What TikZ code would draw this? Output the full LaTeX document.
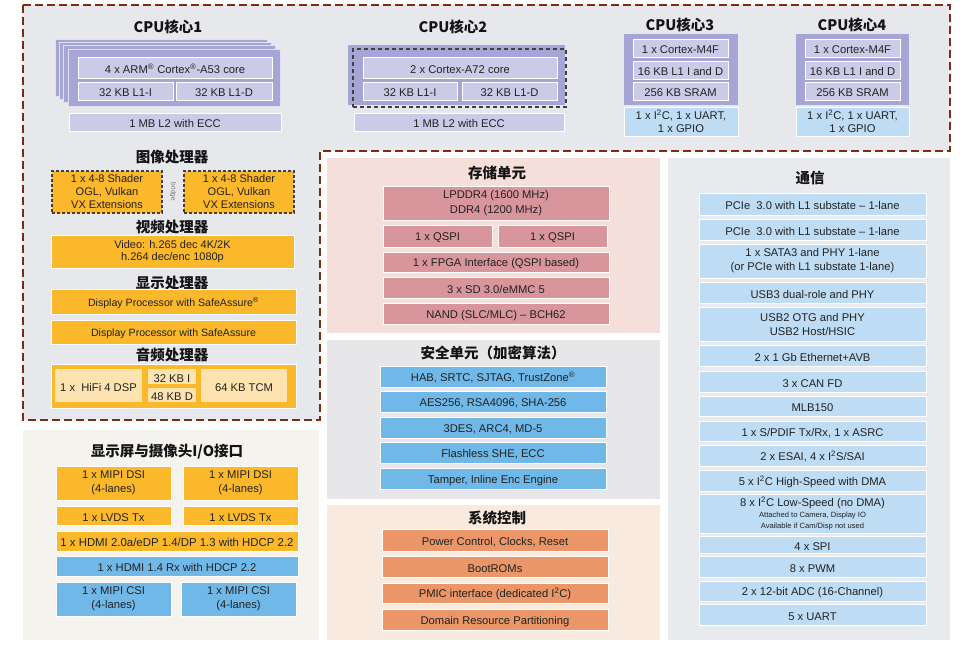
\documentclass[tikz,border=0pt]{standalone}
\usepackage{fontspec}
\setmainfont{Liberation Sans}
\newfontfamily\cjk{Noto Sans CJK SC}
\definecolor{cpubg}{HTML}{E7E8EC}
\definecolor{bordc}{HTML}{7F2A12}
\definecolor{lavd}{HTML}{A6A6D6}
\definecolor{lavl}{HTML}{CBCBE8}
\definecolor{lblue}{HTML}{BEDDF4}
\definecolor{orng}{HTML}{FBB82B}
\definecolor{cream}{HTML}{FDE3AF}
\definecolor{pinkbg}{HTML}{F5DFDB}
\definecolor{pinkbx}{HTML}{D9959C}
\definecolor{secbg}{HTML}{E7E7E9}
\definecolor{mblue}{HTML}{6FB8E8}
\definecolor{sysbg}{HTML}{F9EADF}
\definecolor{salmon}{HTML}{EA9668}
\definecolor{iobg}{HTML}{F5F3EE}
\definecolor{combg}{HTML}{E9EAEE}
\definecolor{txt}{HTML}{222222}
\newcommand\bxx[7]{\pgfmathsetmacro\bxw{#5-#3}\pgfmathsetmacro\bxh{#6-#4}%
  \node[#1,anchor=north west,minimum width=\bxw pt,minimum height=\bxh pt] (#2) at (#3,#4) {#7};}
\tikzset{
  box/.style={inner sep=0pt,outer sep=0pt,align=center,text=txt,
    font=\fontsize{11.2}{13.5}\selectfont,draw=white,line width=0.6pt,
    execute at begin node={\rule{0pt}{11.5pt}}},
  panel/.style={inner sep=0pt,outer sep=0pt,draw=none},
  layer/.style={panel,fill=lavd,draw=lavl!60!white,line width=0.8pt},
  ttl/.style={inner sep=0pt,text=black!92,font=\cjk\bfseries\fontsize{14.5}{16}\selectfont},
  gdash/.style={box,fill=orng,draw=black!75,dashed,dash pattern=on 3pt off 2pt,line width=1.1pt},
  bordline/.style={draw=bordc,line width=2.6pt,dash pattern=on 8pt off 4pt}
}
\begin{document}
\begin{tikzpicture}[x=1pt,y=-1pt]
\useasboundingbox (0,0) rectangle (966,645);
\fill[white] (0,0) rectangle (966,645);
% CPU region background
\fill[cpubg] (23,5) -- (950,5) -- (950,151) -- (320,151) -- (320,420) -- (23,420) -- cycle;
% panels
\bxx{panel,fill=pinkbg}{pmem}{327}{158}{660}{333}{}
\bxx{panel,fill=secbg}{psec}{327}{340}{660}{499}{}
\bxx{panel,fill=sysbg}{psys}{327}{505}{660}{640}{}
\bxx{panel,fill=combg}{pcom}{668}{158}{950}{640}{}
\bxx{panel,fill=iobg}{pio}{23}{430}{319}{640}{}
% dashed border
\draw[bordline] (23,5) -- (950,5) -- (950,151) -- (320,151) -- (320,420) -- (23,420) -- cycle;

% CPU 1
\node[ttl] (t1) at (168,27) {CPU核心1};
\bxx{layer}{l1a}{55}{39}{267}{96}{}
\bxx{layer}{l1b}{59.3}{42.3}{271.3}{99.3}{}
\bxx{layer}{l1c}{63.6}{45.6}{275.6}{102.6}{}
\bxx{layer}{l1d}{68}{49}{280}{106}{}
\bxx{box,fill=lavl}{c1core}{78}{57}{272}{78}{4 x ARM\textsuperscript{®} Cortex\textsuperscript{®}-A53 core}
\bxx{box,fill=lavl}{c1i}{78}{82}{173}{100}{32 KB L1-I}
\bxx{box,fill=lavl}{c1d}{176}{82}{272}{100}{32 KB L1-D}
\bxx{box,fill=lavl}{c1l2}{69}{113}{281}{131}{1 MB L2 with ECC}

% CPU 2
\node[ttl] (t2) at (453,27) {CPU核心2};
\bxx{panel,fill=lavd}{c2o}{348}{45}{565}{105}{}
\bxx{panel,draw=black!75,line width=1.5pt,dash pattern=on 4pt off 3pt}{c2d}{353}{49}{566}{107}{}
\bxx{box,fill=lavl}{c2core}{363}{57}{557}{78}{2 x Cortex-A72 core}
\bxx{box,fill=lavl}{c2i}{363}{82}{457}{100}{32 KB L1-I}
\bxx{box,fill=lavl}{c2d2}{462}{82}{557}{100}{32 KB L1-D}
\bxx{box,fill=lavl}{c2l2}{354}{113}{564}{131}{1 MB L2 with ECC}

% CPU 3
\node[ttl] (t3) at (680,25) {CPU核心3};
\bxx{panel,fill=lavd}{c3o}{624}{34}{738}{105}{}
\bxx{box,fill=lavl}{c3a}{633}{39}{728}{57}{1 x Cortex-M4F}
\bxx{box,fill=lavl}{c3b}{633}{61}{728}{79}{16 KB L1 I and D}
\bxx{box,fill=lavl}{c3c}{633}{82}{728}{100}{256 KB SRAM}
\bxx{box,fill=lblue,font=\fontsize{11.2}{12.5}\selectfont}{c3io}{624}{107}{738}{136}{1 x I\textsuperscript{2}C, 1 x UART,\\1 x GPIO}

% CPU 4
\node[ttl] (t4) at (852,25) {CPU核心4};
\bxx{panel,fill=lavd}{c4o}{796}{34}{909}{105}{}
\bxx{box,fill=lavl}{c4a}{805}{39}{900}{57}{1 x Cortex-M4F}
\bxx{box,fill=lavl}{c4b}{805}{61}{900}{79}{16 KB L1 I and D}
\bxx{box,fill=lavl}{c4c}{805}{82}{900}{100}{256 KB SRAM}
\bxx{box,fill=lblue,font=\fontsize{11.2}{12.5}\selectfont}{c4io}{796}{107}{909}{136}{1 x I\textsuperscript{2}C, 1 x UART,\\1 x GPIO}

% graphics
\node[ttl] (tg) at (172,157) {图像处理器};
\bxx{gdash,font=\fontsize{11}{13}\selectfont}{g1}{52}{171}{162}{213}{1 x 4-8 Shader\\OGL, Vulkan\\VX Extensions}
\bxx{gdash,font=\fontsize{11}{13}\selectfont}{g2}{184}{171}{294}{213}{1 x 4-8 Shader\\OGL, Vulkan\\VX Extensions}
\node[rotate=-90,inner sep=0pt,text=black!55,font=\fontsize{6.5}{7}\selectfont] (bridge) at (173,192) {bridge};

% video
\node[ttl] (tv) at (172,227) {视频处理器};
\bxx{box,fill=orng,font=\fontsize{11}{12}\selectfont}{v1}{51}{235}{294}{268}{Video: h.265 dec 4K/2K\\h.264 dec/enc 1080p}

% display
\node[ttl] (td) at (172,283) {显示处理器};
\bxx{box,fill=orng,font=\fontsize{10.6}{12}\selectfont}{d1}{51}{289}{296}{314}{Display Processor with SafeAssure\textsuperscript{®}}
\bxx{box,fill=orng,font=\fontsize{10.6}{12}\selectfont}{d2}{51}{320}{296}{344}{Display Processor with SafeAssure}

% audio
\node[ttl] (ta) at (172,355) {音频处理器};
\bxx{box,fill=orng}{a0}{51}{364}{296}{408}{}
\bxx{box,fill=cream,draw=none}{a1}{55}{369}{142}{402}{1 x\ \ HiFi 4 DSP}
\bxx{box,fill=cream,draw=none}{a2}{148}{369}{196}{384}{32 KB I}
\bxx{box,fill=cream,draw=none}{a3}{148}{388}{196}{402}{48 KB D}
\bxx{box,fill=cream,draw=none}{a4}{201}{369}{287}{402}{64 KB TCM}

% display / camera IO
\node[ttl] (tio) at (167,452) {显示屏与摄像头I/O接口};
\bxx{box,fill=orng,font=\fontsize{11.2}{14}\selectfont}{io1}{56}{466}{171}{500}{1 x MIPI DSI\\(4-lanes)}
\bxx{box,fill=orng,font=\fontsize{11.2}{14}\selectfont}{io2}{183}{466}{298}{500}{1 x MIPI DSI\\(4-lanes)}
\bxx{box,fill=orng}{io3}{56}{506}{171}{525}{1 x LVDS Tx}
\bxx{box,fill=orng}{io4}{183}{506}{298}{525}{1 x LVDS Tx}
\bxx{box,fill=orng,font=\fontsize{11.4}{13}\selectfont}{io5}{56}{531}{298}{551}{1 x HDMI 2.0a/eDP 1.4/DP 1.3 with HDCP 2.2}
\bxx{box,fill=mblue}{io6}{56}{556}{298}{576}{1 x HDMI 1.4 Rx with HDCP 2.2}
\bxx{box,fill=mblue,font=\fontsize{11.2}{14}\selectfont}{io7}{56}{582}{171}{616}{1 x MIPI CSI\\(4-lanes)}
\bxx{box,fill=mblue,font=\fontsize{11.2}{14}\selectfont}{io8}{181}{582}{296}{616}{1 x MIPI CSI\\(4-lanes)}

% memory
\node[ttl] (tm) at (497,173) {存储单元};
\bxx{box,fill=pinkbx,font=\fontsize{11.2}{15}\selectfont}{m1}{383}{186}{609}{220}{LPDDR4 (1600 MHz)\\DDR4 (1200 MHz)}
\bxx{box,fill=pinkbx}{m2}{383}{225}{492}{247}{1 x QSPI}
\bxx{box,fill=pinkbx}{m3}{498}{225}{607}{247}{1 x QSPI}
\bxx{box,fill=pinkbx}{m4}{383}{252}{609}{272}{1 x FPGA Interface (QSPI based)}
\bxx{box,fill=pinkbx}{m5}{383}{277}{609}{298}{3 x SD 3.0/eMMC 5}
\bxx{box,fill=pinkbx}{m6}{383}{303}{609}{324}{NAND (SLC/MLC) – BCH62}

% security
\node[ttl] (ts) at (493,353) {安全单元（加密算法）};
\bxx{box,fill=mblue}{s1}{380}{366}{606}{387}{HAB, SRTC, SJTAG, TrustZone\textsuperscript{®}}
\bxx{box,fill=mblue}{s2}{380}{391}{606}{412}{AES256, RSA4096, SHA-256}
\bxx{box,fill=mblue}{s3}{380}{417}{606}{438}{3DES, ARC4, MD-5}
\bxx{box,fill=mblue}{s4}{380}{442}{606}{463}{Flashless SHE, ECC}
\bxx{box,fill=mblue}{s5}{380}{468}{606}{489}{Tamper, Inline Enc Engine}

% system control
\node[ttl] (ty) at (497,518) {系统控制};
\bxx{box,fill=salmon}{y1}{382}{529}{608}{551}{Power Control, Clocks, Reset}
\bxx{box,fill=salmon}{y2}{382}{556}{608}{577}{BootROMs}
\bxx{box,fill=salmon}{y3}{382}{583}{608}{603}{PMIC interface (dedicated I\textsuperscript{2}C)}
\bxx{box,fill=salmon}{y4}{382}{609}{608}{630}{Domain Resource Partitioning}

% communication
\node[ttl] (tc) at (810,178) {通信};
\bxx{box,fill=lblue}{k1}{699}{193}{926}{215}{PCIe\ \ 3.0 with L1 substate – 1-lane}
\bxx{box,fill=lblue}{k2}{699}{219}{926}{240}{PCIe\ \ 3.0 with L1 substate – 1-lane}
\bxx{box,fill=lblue,font=\fontsize{11.2}{14}\selectfont}{k3}{699}{244}{926}{278}{1 x SATA3 and PHY 1-lane\\(or PCIe with L1 substate 1-lane)}
\bxx{box,fill=lblue}{k4}{699}{282}{926}{303}{USB3 dual-role and PHY}
\bxx{box,fill=lblue,font=\fontsize{11.2}{14}\selectfont}{k5}{699}{307}{926}{341}{USB2 OTG and PHY\\USB2 Host/HSIC}
\bxx{box,fill=lblue}{k6}{699}{345}{926}{366}{2 x 1 Gb Ethernet+AVB}
\bxx{box,fill=lblue}{k7}{699}{371}{926}{392}{3 x CAN FD}
\bxx{box,fill=lblue}{k8}{699}{396}{926}{416}{MLB150}
\bxx{box,fill=lblue}{k9}{699}{421}{926}{441}{1 x S/PDIF Tx/Rx, 1 x ASRC}
\bxx{box,fill=lblue}{k10}{699}{445}{926}{466}{2 x ESAI, 4 x I\textsuperscript{2}S/SAI}
\bxx{box,fill=lblue}{k11}{699}{470}{926}{491}{5 x I\textsuperscript{2}C High-Speed with DMA}
\bxx{box,fill=lblue,font=\fontsize{11.2}{11}\selectfont}{k12}{699}{494}{926}{533}{8 x I\textsuperscript{2}C Low-Speed (no DMA)\\\fontsize{7.6}{10}\selectfont Attached to Camera, Display IO\\\fontsize{7.6}{10}\selectfont Available if Cam/Disp not used}
\bxx{box,fill=lblue}{k13}{699}{536}{926}{553}{4 x SPI}
\bxx{box,fill=lblue}{k14}{699}{556}{926}{577}{8 x PWM}
\bxx{box,fill=lblue}{k15}{699}{581}{926}{601}{2 x 12-bit ADC (16-Channel)}
\bxx{box,fill=lblue}{k16}{699}{604}{926}{625}{5 x UART}
\end{tikzpicture}
\end{document}
